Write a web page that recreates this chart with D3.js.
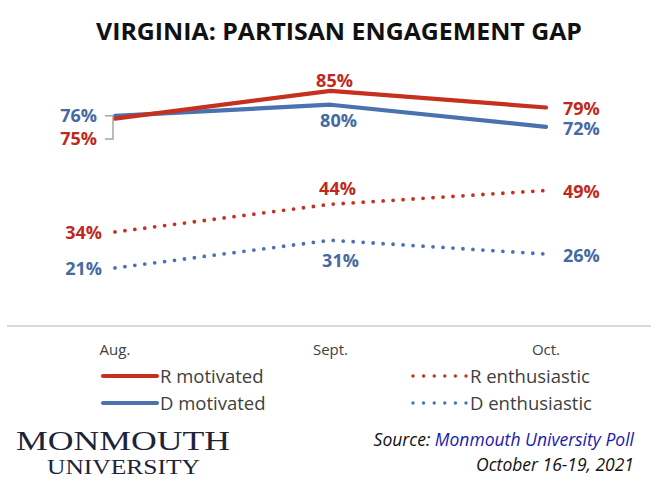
<!DOCTYPE html>
<html>
<head>
<meta charset="utf-8">
<script src="https://cdn.jsdelivr.net/npm/d3@7"></script>
<style>
  body { margin: 0; background: #fff; }
  svg { display: block; }
</style>
</head>
<body>
<script>
// data
var months = ["Aug.", "Sept.", "Oct."];
var rMotivated = [75, 85, 79];
var dMotivated = [76, 80, 72];
var rEnthusiastic = [34, 44, 49];
var dEnthusiastic = [21, 31, 26];

var red = "#C5301F", blue = "#4A72B0";
var redText = "#C0291C", blueText = "#4469A3";

var svg = d3.select("body").append("svg")
  .attr("width", 658)
  .attr("height", 490);

var x = d3.scalePoint().domain(months).range([115, 546]);
var y = d3.scaleLinear().domain([0, 100]).range([326, 49.4]);

// title
svg.append("text")
  .attr("x", 339).attr("y", 40)
  .attr("text-anchor", "middle")
  .style("font-family", "Open Sans")
  .style("font-weight", 700)
  .style("font-size", "23px")
  .style("fill", "#111")
  .attr("textLength", 486)
  .attr("lengthAdjust", "spacingAndGlyphs")
  .text("VIRGINIA: PARTISAN ENGAGEMENT GAP");

// base line
svg.append("line")
  .attr("x1", 7).attr("x2", 651)
  .attr("y1", y(0)).attr("y2", y(0))
  .attr("stroke", "#d9d9d9")
  .attr("stroke-width", 2);

// month labels
svg.selectAll(".month").data(months).enter().append("text")
  .attr("class", "month")
  .attr("x", function(d) { return x(d); })
  .attr("y", 355)
  .attr("text-anchor", "middle")
  .style("font-family", "Open Sans")
  .style("font-size", "15px")
  .style("fill", "#404040")
  .text(function(d) { return d; });

var line = d3.line()
  .x(function(d, i) { return x(months[i]); })
  .y(function(d) { return y(d); });

var series = [
  {name: "R enthusiastic", values: rEnthusiastic, color: red, dotted: true},
  {name: "D enthusiastic", values: dEnthusiastic, color: blue, dotted: true},
  {name: "D motivated", values: dMotivated, color: blue, dotted: false},
  {name: "R motivated", values: rMotivated, color: red, dotted: false}
];

series.forEach(function(s) {
  var p = svg.append("path")
    .datum(s.values)
    .attr("d", line)
    .attr("fill", "none")
    .attr("stroke", s.color)
    .attr("stroke-linecap", "round")
    .attr("stroke-linejoin", "round");
  if (s.dotted) {
    p.attr("stroke-width", 3.8).attr("stroke-dasharray", "0 10");
  } else {
    p.attr("stroke-width", 4.2);
  }
});

// data labels
function label(v, i, dx, yy, anchor, color) {
  svg.append("text")
    .attr("x", x(months[i]) + dx)
    .attr("y", yy)
    .attr("text-anchor", anchor)
    .style("font-family", "Open Sans")
    .style("font-weight", 700)
    .style("font-size", "18px")
    .style("fill", color)
    .text(v + "%");
}

// left side
label(dMotivated[0], 0, -18, 122, "end", blueText);
label(rMotivated[0], 0, -18, 145, "end", redText);
label(rEnthusiastic[0], 0, -13, 239, "end", redText);
label(dEnthusiastic[0], 0, -13, 275, "end", blueText);
// middle
label(rMotivated[1], 1, 4, 87, "middle", redText);
label(dMotivated[1], 1, 8, 127, "middle", blueText);
label(rEnthusiastic[1], 1, 7, 195, "middle", redText);
label(dEnthusiastic[1], 1, 10, 267, "middle", blueText);
// right side
label(rMotivated[2], 2, 17, 115, "start", redText);
label(dMotivated[2], 2, 17, 135, "start", blueText);
label(rEnthusiastic[2], 2, 17, 198, "start", redText);
label(dEnthusiastic[2], 2, 17, 262, "start", blueText);

// leader bracket for the Aug. labels
svg.append("path")
  .attr("d", "M" + (x(months[0]) - 10) + "," + y(dMotivated[0]) +
             "H" + (x(months[0]) - 2) +
             "V" + 139 + "H" + (x(months[0]) - 10))
  .attr("fill", "none")
  .attr("stroke", "#a6a6a6")
  .attr("stroke-width", 1.5);

// legend
var legend = [
  {name: "R motivated", color: red, dotted: false, lx: 103, ly: 376},
  {name: "D motivated", color: blue, dotted: false, lx: 103, ly: 403},
  {name: "R enthusiastic", color: red, dotted: true, lx: 413, ly: 376},
  {name: "D enthusiastic", color: blue, dotted: true, lx: 413, ly: 403}
];

legend.forEach(function(l) {
  var ln = svg.append("line")
    .attr("x1", l.lx).attr("x2", l.lx + 54)
    .attr("y1", l.ly).attr("y2", l.ly)
    .attr("stroke", l.color)
    .attr("stroke-linecap", "round");
  if (l.dotted) {
    ln.attr("stroke-width", 3.4).attr("stroke-dasharray", "0 10.6");
  } else {
    ln.attr("stroke-width", 4.2);
  }
  svg.append("text")
    .attr("x", l.lx + 57)
    .attr("y", l.ly + 6.5)
    .style("font-family", "Open Sans")
    .style("font-size", "18.5px")
    .style("fill", "#404040")
    .text(l.name);
});

// logo
svg.append("text")
  .attr("x", 16).attr("y", 450)
  .style("font-family", "Liberation Serif")
  .style("font-size", "28px")
  .style("fill", "#1c2538")
  .attr("textLength", 214)
  .attr("lengthAdjust", "spacingAndGlyphs")
  .text("MONMOUTH");
svg.append("text")
  .attr("x", 47).attr("y", 474)
  .style("font-family", "Liberation Serif")
  .style("font-size", "20px")
  .style("fill", "#1c2538")
  .attr("textLength", 153)
  .attr("lengthAdjust", "spacingAndGlyphs")
  .text("UNIVERSITY");

// source
var src = svg.append("text")
  .attr("x", 634).attr("y", 446)
  .attr("text-anchor", "end")
  .style("font-family", "Open Sans")
  .style("font-style", "italic")
  .style("font-size", "17.5px")
  .style("fill", "#111");
src.append("tspan").text("Source:  ");
src.append("tspan").style("fill", "#1a1ab0").text("Monmouth University Poll");

svg.append("text")
  .attr("x", 634).attr("y", 471)
  .attr("text-anchor", "end")
  .style("font-family", "Open Sans")
  .style("font-style", "italic")
  .style("font-size", "17.5px")
  .style("fill", "#111")
  .text("October 16-19, 2021");
</script>
</body>
</html>
